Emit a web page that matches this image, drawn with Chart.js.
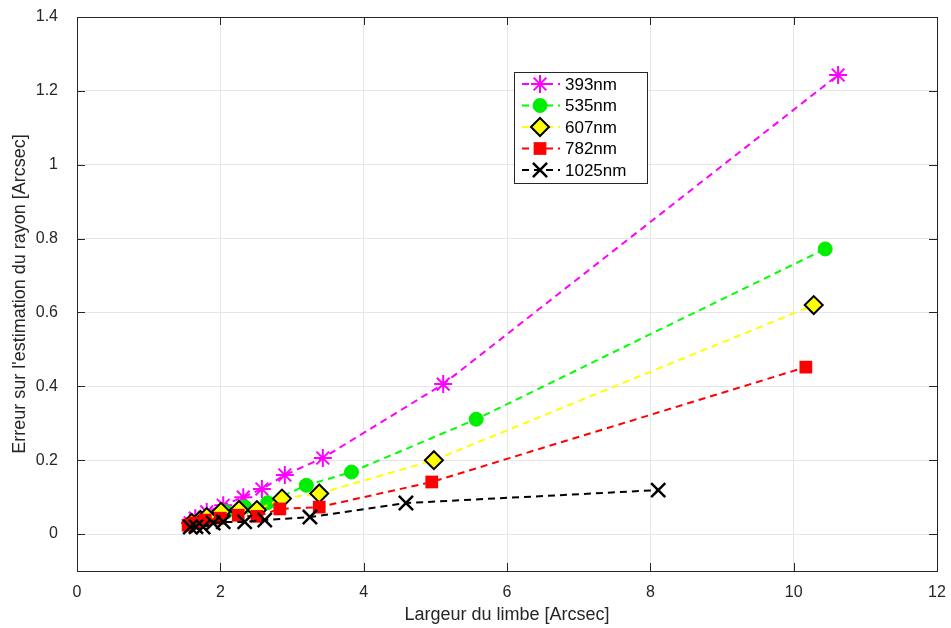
<!DOCTYPE html>
<html>
<head>
<meta charset="utf-8">
<style>
  html, body { margin: 0; padding: 0; background: #fff; }
  #wrap { width: 951px; height: 628px; }
</style>
</head>
<body>
<div id="wrap"><canvas id="myChart" width="951" height="628"></canvas></div>
<script src="https://cdn.jsdelivr.net/npm/chart.js@4.4.0/dist/chart.umd.min.js"></script>
<script>
    // series names (legend order)
    const names = ['393nm', '535nm', '607nm', '782nm', '1025nm']

    // limb width [Arcsec] / radius error [Arcsec]
    const x393 = [1.58, 1.65, 1.81, 2.04, 2.32, 2.58, 2.90, 3.43, 5.11, 10.62]
    const y393 = [0.030, 0.043, 0.060, 0.078, 0.100, 0.122, 0.160, 0.206, 0.406, 1.243]

    const x535 = [1.60, 1.70, 1.85, 2.08, 2.34, 2.66, 3.20, 3.83, 5.57, 10.44]
    const y535 = [0.028, 0.035, 0.045, 0.060, 0.073, 0.085, 0.132, 0.168, 0.311, 0.772]

    const x607 = [1.60, 1.72, 1.81, 2.01, 2.26, 2.51, 2.86, 3.38, 4.98, 10.28]
    const y607 = [0.030, 0.038, 0.046, 0.060, 0.065, 0.065, 0.096, 0.110, 0.200, 0.620]

    const x782 = [1.55, 1.65, 1.79, 2.00, 2.25, 2.51, 2.83, 3.38, 4.95, 10.17]
    const y782 = [0.024, 0.030, 0.038, 0.043, 0.051, 0.048, 0.068, 0.073, 0.141, 0.452]

    const x1025 = [1.58, 1.66, 1.76, 1.90, 2.04, 2.34, 2.62, 3.25, 4.59, 8.11]
    const y1025 = [0.019, 0.020, 0.019, 0.030, 0.033, 0.033, 0.038, 0.046, 0.084, 0.119]

    const xTicks = [0, 2, 4, 6, 8, 10, 12]
    const yTicks = [0, 0.2, 0.4, 0.6, 0.8, 1, 1.2, 1.4]

    // marker styles per series
    const styles = [
        { color: '#ff00ff', point: 'star', radius: 9, fill: '#ff00ff', border: '#ff00ff', bw: 2 },
        { color: '#00ff00', point: 'circle', radius: 7, fill: '#00ee00', border: '#00ee00', bw: 1 },
        { color: '#ffff00', point: 'rectRot', radius: 9, fill: '#ffff00', border: '#000000', bw: 2 },
        { color: '#ff0000', point: 'rect', radius: 9, fill: '#ff0000', border: '#ff0000', bw: 0 },
        { color: '#000000', point: 'crossRot', radius: 10, fill: '#000000', border: '#000000', bw: 2.5 }
    ]

    const xs = [x393, x535, x607, x782, x1025]
    const ys = [y393, y535, y607, y782, y1025]

    const datasets = names.map((name, i) => ({
        label: name,
        data: xs[i].map((x, k) => ({ x: x, y: ys[i][k] })),
        borderColor: styles[i].color,
        borderWidth: 2,
        borderDash: [7, 5],
        pointStyle: styles[i].point,
        pointRadius: styles[i].radius,
        pointBackgroundColor: styles[i].fill,
        pointBorderColor: styles[i].border,
        pointBorderWidth: styles[i].bw,
        showLine: true,
        fill: false,
        order: names.length - 1 - i
    }))

    const axisColor = '#262626'
    const font = 'Liberation Sans, Arial, Helvetica, sans-serif'

    // box around the axes, with inward tick marks, and the legend box
    const boxPlugin = {
        id: 'box',
        afterDraw(chart) {
            const ctx = chart.ctx
            const a = chart.chartArea
            const xs_ = chart.scales.x, ys_ = chart.scales.y
            ctx.save()
            ctx.strokeStyle = axisColor
            ctx.lineWidth = 1
            ctx.strokeRect(a.left + 0.5, a.top + 0.5, a.right - a.left, a.bottom - a.top)
            ctx.beginPath()
            xTicks.forEach(v => {
                const px = Math.round(xs_.getPixelForValue(v)) + 0.5
                ctx.moveTo(px, a.bottom); ctx.lineTo(px, a.bottom - 8)
                ctx.moveTo(px, a.top); ctx.lineTo(px, a.top + 8)
            })
            yTicks.forEach(v => {
                const py = Math.round(ys_.getPixelForValue(v)) + 0.5
                ctx.moveTo(a.left, py); ctx.lineTo(a.left + 8, py)
                ctx.moveTo(a.right, py); ctx.lineTo(a.right - 8, py)
            })
            ctx.stroke()

            // legend
            const lx = 514, ly = 72, lw = 133, lh = 111
            ctx.fillStyle = '#fff'
            ctx.fillRect(lx, ly, lw, lh)
            ctx.strokeStyle = axisColor
            ctx.strokeRect(lx + 0.5, ly + 0.5, lw, lh)
            ctx.font = '17px ' + font
            ctx.textBaseline = 'middle'
            names.forEach((name, i) => {
                const yy = ly + 12 + i * 21.5
                const st = styles[i]
                ctx.save()
                ctx.strokeStyle = st.color
                ctx.lineWidth = 2
                ctx.setLineDash([7, 5])
                ctx.beginPath()
                ctx.moveTo(522, yy); ctx.lineTo(560, yy)
                ctx.stroke()
                ctx.restore()
                ctx.fillStyle = st.fill
                ctx.strokeStyle = st.border
                ctx.lineWidth = st.bw
                Chart.helpers.drawPoint(ctx, {
                    pointStyle: st.point, radius: st.radius, rotation: 0, borderWidth: st.bw
                }, 540, yy)
                ctx.fillStyle = '#000'
                ctx.fillText(name, 565, yy + 1)
            })
            ctx.restore()
        }
    }

    const ctx = document.getElementById('myChart')
    const myChart = new Chart(ctx, {
        type: 'scatter',
        data: { datasets: datasets },
        plugins: [boxPlugin],
        options: {
            responsive: false,
            animation: false,
            layout: { padding: { left: 0, right: 14, top: 17, bottom: 0 } },
            plugins: {
                legend: { display: false },
                tooltip: { enabled: false }
            },
            scales: {
                x: {
                    type: 'linear',
                    min: 0,
                    max: 12,
                    afterBuildTicks: s => { s.ticks = xTicks.map(v => ({ value: v })) },
                    afterFit: s => { s.height = 57; s.paddingLeft = 0; s.paddingRight = 0 },
                    grid: { color: '#e6e6e6', drawTicks: false },
                    border: { display: false },
                    ticks: {
                        padding: 12,
                        color: axisColor,
                        font: { family: font, size: 16 },
                        maxRotation: 0
                    },
                    title: {
                        display: true,
                        text: 'Largeur du limbe [Arcsec]',
                        color: axisColor,
                        font: { family: font, size: 18 },
                        padding: { top: 0, bottom: 2 }
                    }
                },
                y: {
                    type: 'linear',
                    min: -0.1,
                    max: 1.4,
                    afterBuildTicks: s => { s.ticks = yTicks.map(v => ({ value: v })) },
                    afterFit: s => { s.width = 77; s.paddingTop = 0; s.paddingBottom = 0 },
                    grid: { color: '#e6e6e6', drawTicks: false },
                    border: { display: false },
                    ticks: {
                        padding: 19,
                        color: axisColor,
                        font: { family: font, size: 16 },
                        callback: v => String(Math.round(v * 10) / 10)
                    },
                    title: {
                        display: true,
                        text: "Erreur sur l'estimation du rayon [Arcsec]",
                        color: axisColor,
                        font: { family: font, size: 18 },
                        padding: { top: 9, bottom: 0 }
                    }
                }
            }
        }
    })
</script>
</body>
</html>
